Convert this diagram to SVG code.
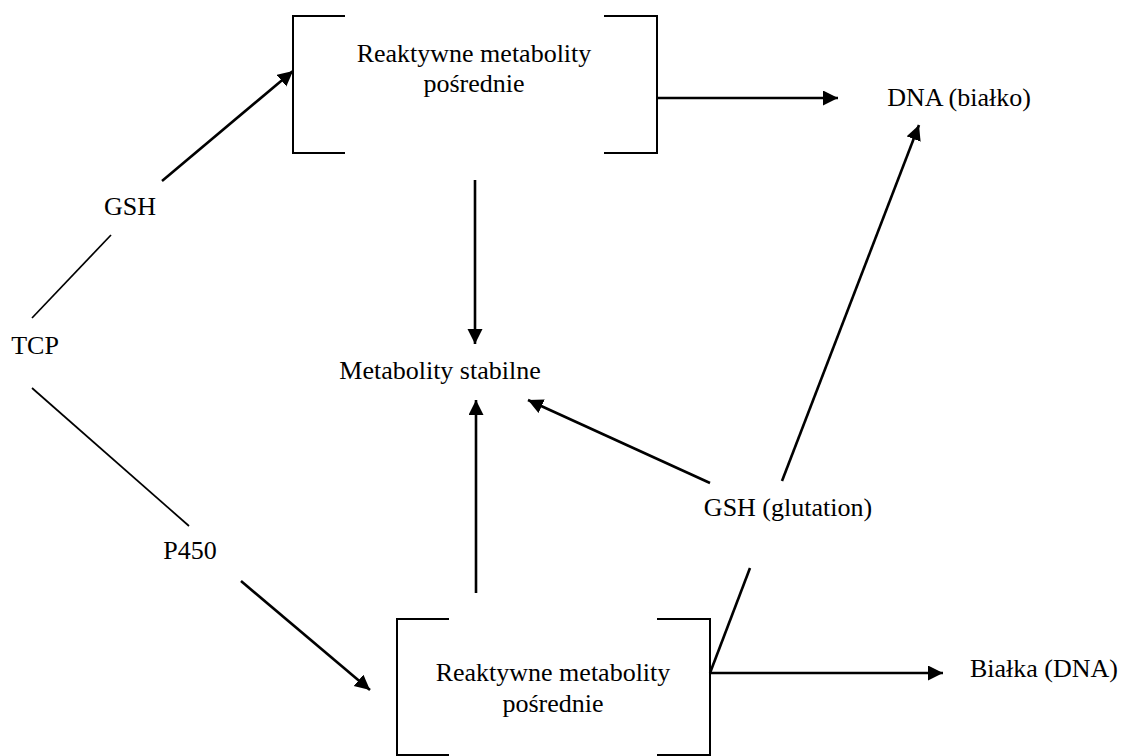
<svg xmlns="http://www.w3.org/2000/svg" width="1126" height="756" viewBox="0 0 1126 756">
<style>
text{font-family:"Liberation Serif","Times New Roman","DejaVu Serif",serif;font-size:26px;fill:#000;text-anchor:middle}
.br{fill:none;stroke:#000;stroke-width:2}
.ar{stroke:#000;stroke-width:2.6;fill:none;marker-end:url(#ah)}
.ln{stroke:#000;stroke-width:1.7;fill:none}
.lk{stroke:#000;stroke-width:2.6;fill:none}
</style>
<defs>
<marker id="ah" markerUnits="userSpaceOnUse" markerWidth="16" markerHeight="16" refX="15" refY="7.5" orient="auto" viewBox="0 0 16 16">
<path d="M0,0 L15,7.5 L0,15 z" fill="#000"/>
</marker>
</defs>
<rect width="1126" height="756" fill="#fff"/>
<g id="connectors">
<line class="ar" x1="162" y1="181" x2="293" y2="71"/>
<line class="ln" x1="32" y1="318" x2="111" y2="235"/>
<line class="ln" x1="32" y1="388" x2="189" y2="526"/>
<line class="ar" x1="241" y1="581" x2="370" y2="690"/>
<line class="ar" x1="657" y1="98" x2="838" y2="98"/>
<line class="ar" x1="475" y1="180" x2="475" y2="344"/>
<line class="ar" x1="476" y1="593" x2="476" y2="400"/>
<line class="ar" x1="710" y1="483" x2="528" y2="400"/>
<line class="ar" x1="782" y1="481" x2="919" y2="125"/>
<line class="lk" x1="710" y1="673" x2="750" y2="568"/>
<line class="ar" x1="710" y1="673" x2="943" y2="673"/>
</g>
<g id="top-box">
<path class="br" d="M345,16 H293 V153 H345"/>
<path class="br" d="M604,16 H657 V153 H604"/>
<text x="474" y="62" font-family="Liberation Serif, serif">Reaktywne metabolity</text>
<text x="474" y="92" font-family="Liberation Serif, serif">pośrednie</text>
</g>
<g id="bottom-box">
<path class="br" d="M449,619 H397 V755 H449"/>
<path class="br" d="M657,619 H710 V755 H657"/>
<text x="553" y="681">Reaktywne metabolity</text>
<text x="553" y="712">pośrednie</text>
</g>
<g id="gsh"><text x="130" y="215">GSH</text></g>
<g id="tcp"><text x="35" y="354">TCP</text></g>
<g id="p450"><text x="190" y="559">P450</text></g>
<g id="metabolity-stabilne"><text x="440" y="379">Metabolity stabilne</text></g>
<g id="dna-bialko"><text x="959" y="106">DNA (białko)</text></g>
<g id="gsh-glutation"><text x="788" y="516">GSH (glutation)</text></g>
<g id="bialka-dna"><text x="1044" y="677">Białka (DNA)</text></g>
</svg>
